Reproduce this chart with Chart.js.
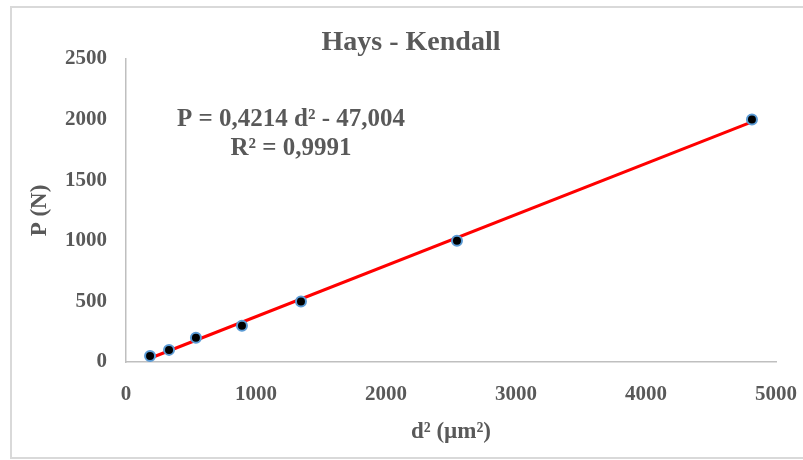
<!DOCTYPE html>
<html>
<head>
<meta charset="utf-8">
<script src="https://cdn.jsdelivr.net/npm/chart.js@4.4.0/dist/chart.umd.min.js"></script>
<style>
    html, body { margin: 0; padding: 0; background: #fff; }
    #wrap { position: relative; width: 803px; height: 460px; overflow: hidden; }
    #frame { position: absolute; left: 10px; top: 6px; width: 820px; height: 449px; border: 2px solid #d9d9d9; pointer-events: none; }
    canvas { position: absolute; left: 0; top: 0; }
</style>
</head>
<body>
<div id="wrap">
    <canvas id="chart" width="803" height="460"></canvas>
    <div id="frame"></div>
</div>
<script>
// --- Data ---
const dSquared = [185, 331, 538, 892, 1346, 2546, 4815];
const loads = [50, 100, 200, 300, 500, 1000, 2000];
const fitSlope = 0.4214;
const fitIntercept = -47.004;
const chartTitle = 'Hays - Kendall';
const equationLines = ['P = 0,4214 d\u00b2 - 47,004', 'R\u00b2 = 0,9991'];
const xTitle = 'd\u00b2 (\u00b5m\u00b2)';
const yTitle = 'P (N)';

const textColor = '#595959';
const serif = "'Liberation Serif', 'Times New Roman', serif";

document.addEventListener('DOMContentLoaded', () => {
    const points = dSquared.map((x, i) => ({ x, y: loads[i] }));
    const xMin = Math.min(...dSquared);
    const xMax = Math.max(...dSquared);
    const trend = [xMin, xMax].map(x => ({ x, y: fitSlope * x + fitIntercept }));

    // title + equation text drawn on top of the chart
    const labelsPlugin = {
        id: 'labels',
        afterDraw(chart) {
            const ctx = chart.ctx;
            ctx.save();
            ctx.fillStyle = textColor;
            ctx.textAlign = 'center';
            ctx.textBaseline = 'alphabetic';
            ctx.font = `bold 28px ${serif}`;
            ctx.fillText(chartTitle, 411, 50);
            ctx.font = `bold 25px ${serif}`;
            ctx.fillText(equationLines[0], 291, 126);
            ctx.fillText(equationLines[1], 291, 155);
            ctx.restore();
        }
    };

    const plainTick = v => String(v);

    new Chart(document.getElementById('chart'), {
        type: 'scatter',
        data: {
            datasets: [
                {
                    data: points,
                    backgroundColor: '#000000',
                    borderColor: '#5b9bd5',
                    borderWidth: 2,
                    pointRadius: 5,
                    order: 0
                },
                {
                    type: 'line',
                    data: trend,
                    borderColor: '#ff0000',
                    borderWidth: 3,
                    pointRadius: 0,
                    fill: false,
                    order: 1
                }
            ]
        },
        options: {
            responsive: false,
            animation: false,
            layout: { padding: { left: 22, right: 27, top: 59, bottom: 10 } },
            plugins: {
                legend: { display: false },
                tooltip: { enabled: false }
            },
            scales: {
                x: {
                    type: 'linear',
                    min: 0,
                    max: 5000,
                    ticks: { stepSize: 1000, padding: 20, callback: plainTick, color: textColor, font: { family: serif, size: 21, weight: 'bold' } },
                    grid: { drawOnChartArea: false, drawTicks: false },
                    border: { display: true, color: '#bfbfbf', width: 1.5 },
                    title: { display: true, text: xTitle, color: textColor, padding: { top: 4, bottom: 4 }, font: { family: serif, size: 23, weight: 'bold' } },
                    afterFit(scale) {
                        scale.height = 88;
                        scale.paddingRight = 0;
                        scale.paddingLeft = 0;
                    }
                },
                y: {
                    min: 0,
                    max: 2500,
                    ticks: { stepSize: 500, padding: 19, callback: plainTick, color: textColor, font: { family: serif, size: 21, weight: 'bold' } },
                    grid: { drawOnChartArea: false, drawTicks: false },
                    border: { display: true, color: '#bfbfbf', width: 1.5 },
                    title: { display: true, text: yTitle, color: textColor, padding: { top: 4, bottom: 4 }, font: { family: serif, size: 23, weight: 'bold' } },
                    afterFit(scale) { scale.width = 104; }
                }
            }
        },
        plugins: [labelsPlugin]
    });
});
</script>
</body>
</html>
